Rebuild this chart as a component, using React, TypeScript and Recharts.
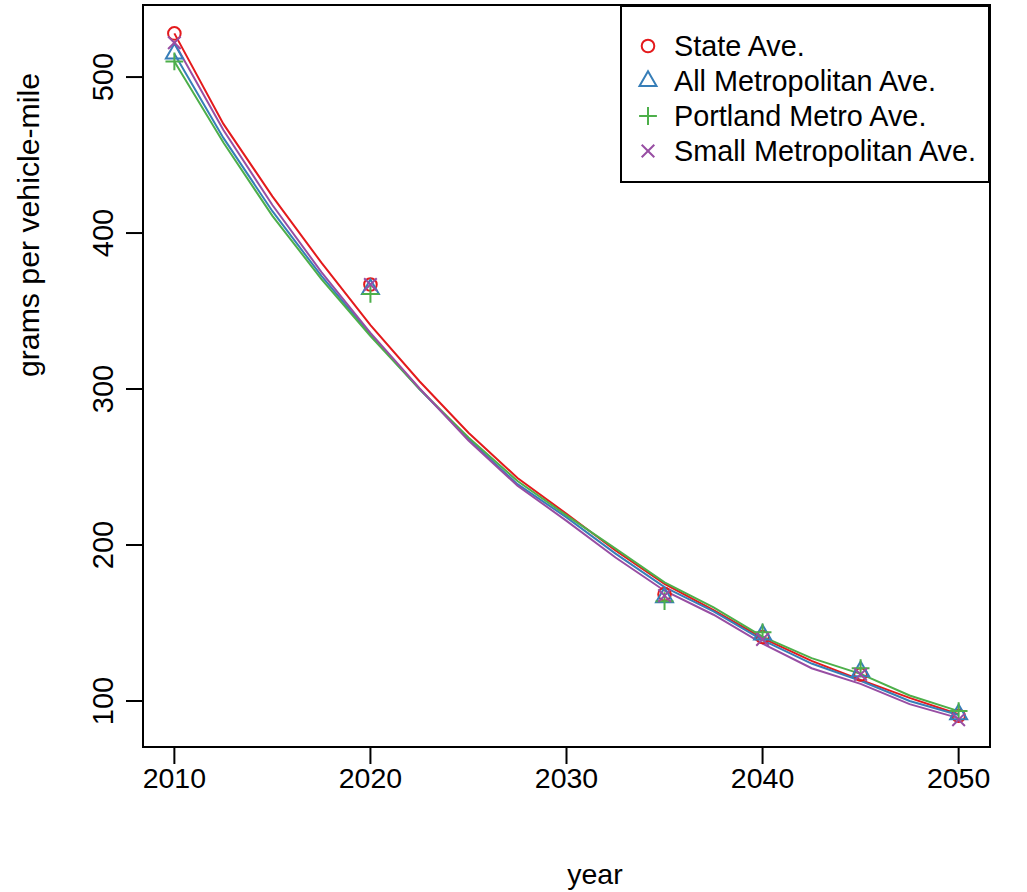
import React from "react";
import { ComposedChart, Line, Scatter, XAxis, YAxis, ReferenceArea, Legend } from "recharts";

const FONT = '"Liberation Sans", Arial, Helvetica, sans-serif';

// model runs, every 2.5 years
const LINE_YEARS = [2010, 2012.5, 2015, 2017.5, 2020, 2022.5, 2025, 2027.5, 2030, 2032.5, 2035, 2037.5, 2040, 2042.5, 2045, 2047.5, 2050];
const STATE_LINE = [528, 470, 423.5, 381, 341, 305, 272, 243, 220, 196.5, 175, 158.3, 140.3, 125.7, 113.5, 102, 91.5];
const ALL_METRO_LINE = [515, 461, 414, 372.5, 335, 300, 268, 239, 217.7, 194.5, 173, 157.4, 139, 124, 113, 100, 91];
const PORTLAND_LINE = [510, 458, 411, 370.5, 334, 300, 269, 241, 219, 197.7, 176, 160, 141.2, 127.5, 117.4, 103.5, 93.5];
const SMALL_METRO_LINE = [522, 466, 418, 375, 336, 300.5, 267, 238, 215.5, 192, 170.7, 155.3, 136.8, 121, 111, 98, 89];

// point estimates
const POINT_YEARS = [2010, 2020, 2035, 2040, 2045, 2050];
const STATE_PTS = [528, 367, 168.5, 141, 117, 90.5];
const ALL_METRO_PTS = [515, 364, 166.5, 142.5, 119, 91.5];
const PORTLAND_PTS = [510, 361, 164, 144, 121, 93.5];
const SMALL_METRO_PTS = [522, 367, 167.5, 139.5, 117, 88];

const X_TICKS = [2010, 2020, 2030, 2040, 2050];
const Y_TICKS = [100, 200, 300, 400, 500];
const X_DOMAIN = [2008.4, 2051.6];
const Y_DOMAIN = [70.5, 546.2];

const SERIES = [
  { key: "state", name: "State Ave.", color: "#E41A1C", shape: "circle", points: STATE_PTS },
  { key: "allMetro", name: "All Metropolitan Ave.", color: "#377EB8", shape: "triangle", points: ALL_METRO_PTS },
  { key: "portland", name: "Portland Metro Ave.", color: "#4DAF4A", shape: "plus", points: PORTLAND_PTS },
  { key: "smallMetro", name: "Small Metropolitan Ave.", color: "#984EA3", shape: "cross", points: SMALL_METRO_PTS },
];

const lineData = LINE_YEARS.map((year, i) => ({
  year,
  state: STATE_LINE[i],
  allMetro: ALL_METRO_LINE[i],
  portland: PORTLAND_LINE[i],
  smallMetro: SMALL_METRO_LINE[i],
}));

const R = 6.3;

function Marker({ shape, cx, cy, color }: { shape: string; cx: number; cy: number; color: string }) {
  const common = { fill: "none", stroke: color, strokeWidth: 2 };
  if (shape === "circle") return <circle cx={cx} cy={cy} r={R} {...common} />;
  if (shape === "triangle") {
    const t = 1.555 * R;
    const pts = `${cx},${cy - t} ${cx + t * 0.866},${cy + t / 2} ${cx - t * 0.866},${cy + t / 2}`;
    return <polygon points={pts} {...common} />;
  }
  if (shape === "plus") {
    const h = 1.414 * R;
    return <path d={`M${cx - h},${cy}H${cx + h}M${cx},${cy - h}V${cy + h}`} {...common} />;
  }
  return <path d={`M${cx - R},${cy - R}L${cx + R},${cy + R}M${cx - R},${cy + R}L${cx + R},${cy - R}`} {...common} />;
}

const LegendBox = () => (
  <svg width={370} height={178} style={{ display: "block" }}>
    <rect x={1} y={1} width={368} height={176} fill="#fff" stroke="#000" strokeWidth={2} />
    {SERIES.map((s, i) => {
      const cy = 41 + i * 35;
      return (
        <g key={s.key}>
          <Marker shape={s.shape} cx={28} cy={cy} color={s.color} />
          <text x={54} y={cy + 10} fontFamily={FONT} fontSize={28.8} fill="#000">
            {s.name}
          </text>
        </g>
      );
    })}
  </svg>
);

const XTick = (props: any) => {
  const { x, y, payload } = props;
  return (
    <text x={x} y={y + 22} textAnchor="middle" fontFamily={FONT} fontSize={28.5} fill="#000">
      {payload.value}
    </text>
  );
};

const YTick = (props: any) => {
  const { x, y, payload } = props;
  const bx = x - 11;
  return (
    <text x={bx} y={y} transform={`rotate(-90 ${bx} ${y})`} textAnchor="middle" fontFamily={FONT} fontSize={29} fill="#000">
      {payload.value}
    </text>
  );
};

export default function App() {
  return (
    <div style={{ position: "absolute", left: 0, top: 0, width: 1027, height: 892, background: "#fff" }}>
      <ComposedChart
        width={1027}
        height={892}
        data={lineData}
        margin={{ top: 5, right: 37, bottom: 85, left: 83 }}
      >
        <XAxis
          type="number"
          dataKey="year"
          domain={X_DOMAIN}
          ticks={X_TICKS}
          allowDataOverflow
          height={60}
          axisLine={false}
          tickSize={17}
          tickLine={{ stroke: "#000", strokeWidth: 2 }}
          tick={<XTick />}
          label={() => (
            <text x={595} y={884} textAnchor="middle" fontFamily={FONT} fontSize={28.5} fill="#000">
              year
            </text>
          )}
        />
        <YAxis
          type="number"
          domain={Y_DOMAIN}
          ticks={Y_TICKS}
          allowDataOverflow
          width={60}
          axisLine={false}
          tickSize={17}
          tickLine={{ stroke: "#000", strokeWidth: 2 }}
          tick={<YTick />}
          label={() => (
            <text
              x={39}
              y={225}
              transform="rotate(-90 39 225)"
              textAnchor="middle"
              fontFamily={FONT}
              fontSize={29}
              textLength={304}
              lengthAdjust="spacingAndGlyphs"
              fill="#000"
            >
              grams per vehicle-mile
            </text>
          )}
        />
        <ReferenceArea
          x1={X_DOMAIN[0]}
          x2={X_DOMAIN[1]}
          y1={Y_DOMAIN[0]}
          y2={Y_DOMAIN[1]}
          fill="none"
          stroke="#000"
          strokeWidth={2}
          ifOverflow="visible"
        />
        {SERIES.map((s) => (
          <Line
            key={s.key}
            type="linear"
            dataKey={s.key}
            stroke={s.color}
            strokeWidth={2}
            dot={false}
            isAnimationActive={false}
          />
        ))}
        {SERIES.map((s) => (
          <Scatter
            key={s.key + "-pts"}
            data={POINT_YEARS.map((year, i) => ({ year, value: s.points[i] }))}
            dataKey="value"
            isAnimationActive={false}
            shape={(p: any) => <Marker shape={s.shape} cx={p.cx} cy={p.cy} color={s.color} />}
          />
        ))}
        <Legend
          layout="vertical"
          align="center"
          verticalAlign="middle"
          wrapperStyle={{ left: 620, top: 5, width: 370, height: 178 }}
          content={() => <LegendBox />}
        />
      </ComposedChart>
    </div>
  );
}
